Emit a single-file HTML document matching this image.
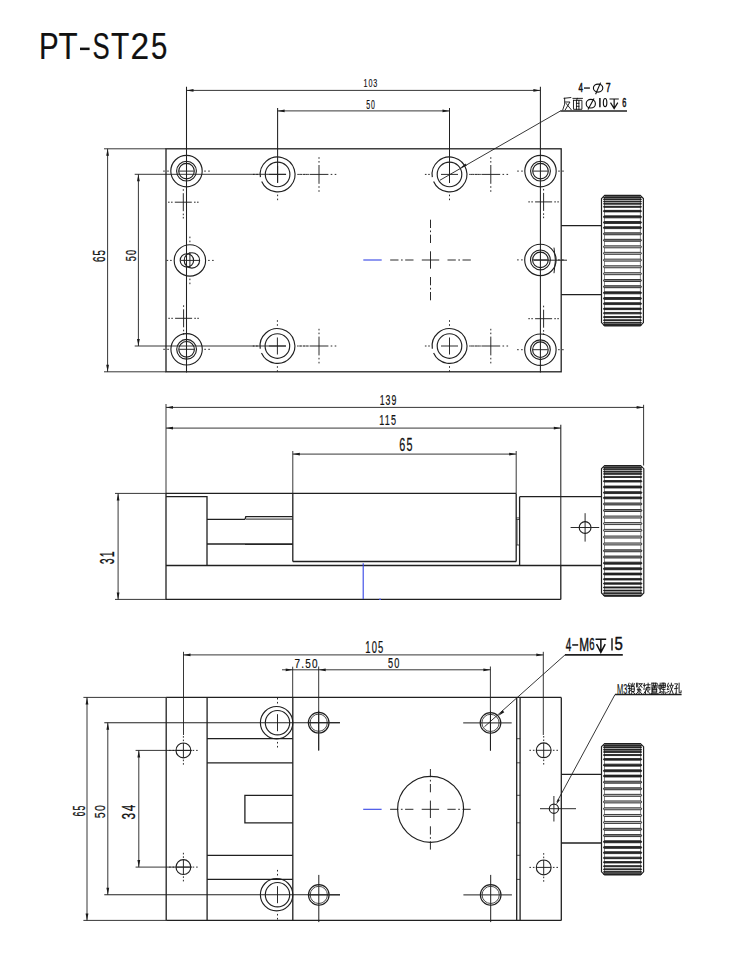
<!DOCTYPE html>
<html><head><meta charset="utf-8"><style>
html,body{margin:0;padding:0;background:#fff;}
svg{display:block;}
</style></head><body>
<svg width="750" height="975" viewBox="0 0 750 975">
<rect x="0" y="0" width="750" height="975" fill="#fff"/>
<g fill="none" stroke="#202020" stroke-width="1.3">
<text x="0" y="0" font-size="100" font-family="'Liberation Sans', sans-serif" fill="#111" stroke="#111" stroke-width="0.6" stroke-linejoin="round" transform="translate(38.930,58.792) scale(0.29478,0.36063)">P</text>
<text x="0" y="0" font-size="100" font-family="'Liberation Sans', sans-serif" fill="#111" stroke="#111" stroke-width="0.6" stroke-linejoin="round" transform="translate(58.469,58.792) scale(0.31250,0.36063)">T</text>
<rect x="80" y="47.6" width="9.6" height="2.5" fill="#111" stroke="none"/>
<text x="0" y="0" font-size="100" font-family="'Liberation Sans', sans-serif" fill="#111" stroke="#111" stroke-width="0.6" stroke-linejoin="round" transform="translate(92.592,58.926) scale(0.25694,0.36453)">S</text>
<text x="0" y="0" font-size="100" font-family="'Liberation Sans', sans-serif" fill="#111" stroke="#111" stroke-width="0.6" stroke-linejoin="round" transform="translate(110.892,58.792) scale(0.29861,0.36063)">T</text>
<text x="0" y="0" font-size="100" font-family="'Liberation Sans', sans-serif" fill="#111" stroke="#111" stroke-width="0.6" stroke-linejoin="round" transform="translate(130.427,58.791) scale(0.33476,0.36261)">2</text>
<text x="0" y="0" font-size="100" font-family="'Liberation Sans', sans-serif" fill="#111" stroke="#111" stroke-width="0.6" stroke-linejoin="round" transform="translate(150.912,58.929) scale(0.29412,0.36261)">5</text>
<rect x="166.00" y="148.80" width="395.20" height="223.00"/>
<line x1="104.00" y1="148.80" x2="166.00" y2="148.80" stroke-width="0.9"/>
<line x1="104.00" y1="371.80" x2="166.00" y2="371.80" stroke-width="0.9"/>
<line x1="107.60" y1="148.80" x2="107.60" y2="371.80" stroke-width="0.9"/>
<path d="M107.60,148.80 L106.20,155.80 L109.00,155.80 Z" fill="#1a1a1a" stroke="none"/>
<path d="M107.60,371.80 L106.20,364.80 L109.00,364.80 Z" fill="#1a1a1a" stroke="none"/>
<text x="0" y="0" font-size="100" font-family="'Liberation Sans', sans-serif" letter-spacing="12" fill="#111" stroke="#111" stroke-width="1.5" stroke-linejoin="round" transform="translate(104.708,262.016) rotate(-90) scale(0.09784,0.16690)">65</text>
<line x1="134.70" y1="174.30" x2="286.00" y2="174.30" stroke-width="0.9"/>
<line x1="134.70" y1="346.00" x2="286.00" y2="346.00" stroke-width="0.9"/>
<line x1="138.40" y1="174.30" x2="138.40" y2="346.00" stroke-width="0.9"/>
<path d="M138.40,174.30 L137.00,181.30 L139.80,181.30 Z" fill="#1a1a1a" stroke="none"/>
<path d="M138.40,346.00 L137.00,339.00 L139.80,339.00 Z" fill="#1a1a1a" stroke="none"/>
<text x="0" y="0" font-size="100" font-family="'Liberation Sans', sans-serif" letter-spacing="12" fill="#111" stroke="#111" stroke-width="1.5" stroke-linejoin="round" transform="translate(135.749,261.196) rotate(-90) scale(0.09099,0.14345)">50</text>
<line x1="186.50" y1="86.80" x2="186.50" y2="372.50" stroke-width="1.05"/>
<line x1="540.40" y1="86.80" x2="540.40" y2="372.50" stroke-width="1.05"/>
<line x1="186.50" y1="90.40" x2="540.40" y2="90.40" stroke-width="0.9"/>
<path d="M186.50,90.40 L193.50,89.00 L193.50,91.80 Z" fill="#1a1a1a" stroke="none"/>
<path d="M540.40,90.40 L533.40,89.00 L533.40,91.80 Z" fill="#1a1a1a" stroke="none"/>
<text x="0" y="0" font-size="100" font-family="'Liberation Sans', sans-serif" letter-spacing="12" fill="#111" stroke="#111" stroke-width="1.5" stroke-linejoin="round" transform="translate(363.579,87.397) scale(0.07187,0.11586)">103</text>
<line x1="277.60" y1="108.00" x2="277.60" y2="182.80" stroke-width="1.05"/>
<line x1="449.50" y1="108.00" x2="449.50" y2="182.80" stroke-width="1.05"/>
<line x1="277.60" y1="110.90" x2="449.50" y2="110.90" stroke-width="0.9"/>
<path d="M277.60,110.90 L284.60,109.50 L284.60,112.30 Z" fill="#1a1a1a" stroke="none"/>
<path d="M449.50,110.90 L442.50,109.50 L442.50,112.30 Z" fill="#1a1a1a" stroke="none"/>
<text x="0" y="0" font-size="100" font-family="'Liberation Sans', sans-serif" letter-spacing="12" fill="#111" stroke="#111" stroke-width="1.5" stroke-linejoin="round" transform="translate(366.274,108.690) scale(0.06953,0.12000)">50</text>
<circle cx="186.50" cy="171.10" r="15.70" stroke-width="1.15"/>
<circle cx="186.50" cy="171.10" r="9.90" stroke-width="1.15"/>
<circle cx="186.50" cy="171.10" r="7.80" stroke-width="1.15"/>
<line x1="179.10" y1="171.10" x2="193.90" y2="171.10" stroke-width="0.95"/>
<line x1="168.80" y1="171.10" x2="167.20" y2="171.10" stroke-width="0.95"/>
<line x1="164.80" y1="171.10" x2="163.20" y2="171.10" stroke-width="0.95"/>
<line x1="204.20" y1="171.10" x2="205.80" y2="171.10" stroke-width="0.95"/>
<line x1="208.20" y1="171.10" x2="209.80" y2="171.10" stroke-width="0.95"/>
<circle cx="540.50" cy="171.10" r="15.70" stroke-width="1.15"/>
<circle cx="540.50" cy="171.10" r="9.90" stroke-width="1.15"/>
<circle cx="540.50" cy="171.10" r="7.80" stroke-width="1.15"/>
<line x1="533.10" y1="171.10" x2="547.90" y2="171.10" stroke-width="0.95"/>
<line x1="522.80" y1="171.10" x2="521.20" y2="171.10" stroke-width="0.95"/>
<line x1="518.80" y1="171.10" x2="517.20" y2="171.10" stroke-width="0.95"/>
<line x1="558.20" y1="171.10" x2="559.80" y2="171.10" stroke-width="0.95"/>
<line x1="562.20" y1="171.10" x2="563.80" y2="171.10" stroke-width="0.95"/>
<circle cx="186.60" cy="349.30" r="15.70" stroke-width="1.15"/>
<circle cx="186.60" cy="349.30" r="9.90" stroke-width="1.15"/>
<circle cx="186.60" cy="349.30" r="7.80" stroke-width="1.15"/>
<line x1="179.20" y1="349.30" x2="194.00" y2="349.30" stroke-width="0.95"/>
<line x1="168.90" y1="349.30" x2="167.30" y2="349.30" stroke-width="0.95"/>
<line x1="164.90" y1="349.30" x2="163.30" y2="349.30" stroke-width="0.95"/>
<line x1="204.30" y1="349.30" x2="205.90" y2="349.30" stroke-width="0.95"/>
<line x1="208.30" y1="349.30" x2="209.90" y2="349.30" stroke-width="0.95"/>
<circle cx="540.40" cy="349.70" r="15.70" stroke-width="1.15"/>
<circle cx="540.40" cy="349.70" r="9.90" stroke-width="1.15"/>
<circle cx="540.40" cy="349.70" r="7.80" stroke-width="1.15"/>
<line x1="533.00" y1="349.70" x2="547.80" y2="349.70" stroke-width="0.95"/>
<line x1="522.70" y1="349.70" x2="521.10" y2="349.70" stroke-width="0.95"/>
<line x1="518.70" y1="349.70" x2="517.10" y2="349.70" stroke-width="0.95"/>
<line x1="558.10" y1="349.70" x2="559.70" y2="349.70" stroke-width="0.95"/>
<line x1="562.10" y1="349.70" x2="563.70" y2="349.70" stroke-width="0.95"/>
<circle cx="540.40" cy="259.90" r="15.70" stroke-width="1.15"/>
<circle cx="540.40" cy="259.90" r="9.90" stroke-width="1.15"/>
<circle cx="540.40" cy="259.90" r="7.80" stroke-width="1.15"/>
<line x1="533.00" y1="259.90" x2="547.80" y2="259.90" stroke-width="0.95"/>
<line x1="522.70" y1="259.90" x2="521.10" y2="259.90" stroke-width="0.95"/>
<line x1="518.70" y1="259.90" x2="517.10" y2="259.90" stroke-width="0.95"/>
<line x1="558.10" y1="259.90" x2="559.70" y2="259.90" stroke-width="0.95"/>
<line x1="562.10" y1="259.90" x2="563.70" y2="259.90" stroke-width="0.95"/>
<line x1="533.80" y1="260.20" x2="567.00" y2="260.20" stroke-width="0.95"/>
<path d="M554.0,247.6 Q556.8,260.4 554.0,273.2" stroke-width="1.0"/>
<circle cx="189.90" cy="260.40" r="15.70" stroke-width="1.15"/>
<circle cx="186.90" cy="260.40" r="6.70" stroke-width="1.15"/>
<circle cx="191.90" cy="260.40" r="7.70" stroke-width="1.15"/>
<line x1="181.00" y1="260.40" x2="199.00" y2="260.40" stroke-width="0.95"/>
<line x1="171.70" y1="260.40" x2="170.10" y2="260.40" stroke-width="0.95"/>
<line x1="168.20" y1="260.40" x2="166.60" y2="260.40" stroke-width="0.95"/>
<line x1="208.10" y1="260.40" x2="209.70" y2="260.40" stroke-width="0.95"/>
<line x1="212.10" y1="260.40" x2="213.70" y2="260.40" stroke-width="0.95"/>
<line x1="189.90" y1="242.20" x2="189.90" y2="240.60" stroke-width="0.95"/>
<line x1="189.90" y1="238.20" x2="189.90" y2="236.60" stroke-width="0.95"/>
<line x1="189.90" y1="278.60" x2="189.90" y2="280.20" stroke-width="0.95"/>
<line x1="189.90" y1="282.60" x2="189.90" y2="284.20" stroke-width="0.95"/>
<line x1="189.90" y1="252.00" x2="189.90" y2="268.00" stroke-width="0.95"/>
<path d="M260.41,177.12 A17.4,17.4 0 1 1 261.70,181.48" stroke-width="1.15"/>
<circle cx="277.60" cy="174.40" r="12.30" stroke-width="1.15"/>
<line x1="269.10" y1="174.40" x2="286.10" y2="174.40" stroke-width="0.95"/>
<line x1="277.60" y1="165.90" x2="277.60" y2="182.90" stroke-width="0.95"/>
<line x1="297.30" y1="174.40" x2="298.90" y2="174.40" stroke-width="0.95"/>
<line x1="300.60" y1="174.40" x2="302.20" y2="174.40" stroke-width="0.95"/>
<line x1="304.00" y1="174.40" x2="305.60" y2="174.40" stroke-width="0.95"/>
<line x1="307.30" y1="174.40" x2="308.90" y2="174.40" stroke-width="0.95"/>
<line x1="257.90" y1="174.40" x2="256.30" y2="174.40" stroke-width="0.95"/>
<line x1="254.60" y1="174.40" x2="253.00" y2="174.40" stroke-width="0.95"/>
<line x1="277.60" y1="194.60" x2="277.60" y2="196.20" stroke-width="0.95"/>
<line x1="277.60" y1="198.60" x2="277.60" y2="200.20" stroke-width="0.95"/>
<path d="M432.31,177.12 A17.4,17.4 0 1 1 433.60,181.48" stroke-width="1.15"/>
<circle cx="449.50" cy="174.40" r="12.30" stroke-width="1.15"/>
<line x1="441.00" y1="174.40" x2="458.00" y2="174.40" stroke-width="0.95"/>
<line x1="449.50" y1="165.90" x2="449.50" y2="182.90" stroke-width="0.95"/>
<line x1="469.20" y1="174.40" x2="470.80" y2="174.40" stroke-width="0.95"/>
<line x1="472.50" y1="174.40" x2="474.10" y2="174.40" stroke-width="0.95"/>
<line x1="475.90" y1="174.40" x2="477.50" y2="174.40" stroke-width="0.95"/>
<line x1="479.20" y1="174.40" x2="480.80" y2="174.40" stroke-width="0.95"/>
<line x1="429.80" y1="174.40" x2="428.20" y2="174.40" stroke-width="0.95"/>
<line x1="426.50" y1="174.40" x2="424.90" y2="174.40" stroke-width="0.95"/>
<line x1="449.50" y1="194.60" x2="449.50" y2="196.20" stroke-width="0.95"/>
<line x1="449.50" y1="198.60" x2="449.50" y2="200.20" stroke-width="0.95"/>
<path d="M260.21,348.72 A17.4,17.4 0 1 1 261.50,353.08" stroke-width="1.15"/>
<circle cx="277.40" cy="346.00" r="12.30" stroke-width="1.15"/>
<line x1="268.90" y1="346.00" x2="285.90" y2="346.00" stroke-width="0.95"/>
<line x1="277.40" y1="337.50" x2="277.40" y2="354.50" stroke-width="0.95"/>
<line x1="297.10" y1="346.00" x2="298.70" y2="346.00" stroke-width="0.95"/>
<line x1="300.40" y1="346.00" x2="302.00" y2="346.00" stroke-width="0.95"/>
<line x1="303.80" y1="346.00" x2="305.40" y2="346.00" stroke-width="0.95"/>
<line x1="307.10" y1="346.00" x2="308.70" y2="346.00" stroke-width="0.95"/>
<line x1="257.70" y1="346.00" x2="256.10" y2="346.00" stroke-width="0.95"/>
<line x1="254.40" y1="346.00" x2="252.80" y2="346.00" stroke-width="0.95"/>
<line x1="277.40" y1="366.20" x2="277.40" y2="367.80" stroke-width="0.95"/>
<line x1="277.40" y1="370.20" x2="277.40" y2="371.80" stroke-width="0.95"/>
<line x1="277.40" y1="325.80" x2="277.40" y2="324.20" stroke-width="0.95"/>
<line x1="277.40" y1="321.80" x2="277.40" y2="320.20" stroke-width="0.95"/>
<path d="M432.31,348.72 A17.4,17.4 0 1 1 433.60,353.08" stroke-width="1.15"/>
<circle cx="449.50" cy="346.00" r="12.30" stroke-width="1.15"/>
<line x1="441.00" y1="346.00" x2="458.00" y2="346.00" stroke-width="0.95"/>
<line x1="449.50" y1="337.50" x2="449.50" y2="354.50" stroke-width="0.95"/>
<line x1="469.20" y1="346.00" x2="470.80" y2="346.00" stroke-width="0.95"/>
<line x1="472.50" y1="346.00" x2="474.10" y2="346.00" stroke-width="0.95"/>
<line x1="475.90" y1="346.00" x2="477.50" y2="346.00" stroke-width="0.95"/>
<line x1="479.20" y1="346.00" x2="480.80" y2="346.00" stroke-width="0.95"/>
<line x1="429.80" y1="346.00" x2="428.20" y2="346.00" stroke-width="0.95"/>
<line x1="426.50" y1="346.00" x2="424.90" y2="346.00" stroke-width="0.95"/>
<line x1="449.50" y1="366.20" x2="449.50" y2="367.80" stroke-width="0.95"/>
<line x1="449.50" y1="370.20" x2="449.50" y2="371.80" stroke-width="0.95"/>
<line x1="449.50" y1="325.80" x2="449.50" y2="324.20" stroke-width="0.95"/>
<line x1="449.50" y1="321.80" x2="449.50" y2="320.20" stroke-width="0.95"/>
<line x1="309.60" y1="174.40" x2="328.40" y2="174.40" stroke-width="0.95"/>
<line x1="319.00" y1="165.00" x2="319.00" y2="183.80" stroke-width="0.95"/>
<line x1="307.30" y1="174.40" x2="305.70" y2="174.40" stroke-width="0.95"/>
<line x1="304.30" y1="174.40" x2="302.70" y2="174.40" stroke-width="0.95"/>
<line x1="300.80" y1="174.40" x2="299.20" y2="174.40" stroke-width="0.95"/>
<line x1="330.70" y1="174.40" x2="332.30" y2="174.40" stroke-width="0.95"/>
<line x1="334.70" y1="174.40" x2="336.30" y2="174.40" stroke-width="0.95"/>
<line x1="319.00" y1="162.60" x2="319.00" y2="161.00" stroke-width="0.95"/>
<line x1="319.00" y1="158.80" x2="319.00" y2="157.20" stroke-width="0.95"/>
<line x1="319.00" y1="186.20" x2="319.00" y2="187.80" stroke-width="0.95"/>
<line x1="319.00" y1="190.20" x2="319.00" y2="191.80" stroke-width="0.95"/>
<line x1="481.40" y1="174.40" x2="500.20" y2="174.40" stroke-width="0.95"/>
<line x1="490.80" y1="165.00" x2="490.80" y2="183.80" stroke-width="0.95"/>
<line x1="479.10" y1="174.40" x2="477.50" y2="174.40" stroke-width="0.95"/>
<line x1="476.10" y1="174.40" x2="474.50" y2="174.40" stroke-width="0.95"/>
<line x1="472.60" y1="174.40" x2="471.00" y2="174.40" stroke-width="0.95"/>
<line x1="502.50" y1="174.40" x2="504.10" y2="174.40" stroke-width="0.95"/>
<line x1="506.50" y1="174.40" x2="508.10" y2="174.40" stroke-width="0.95"/>
<line x1="490.80" y1="162.60" x2="490.80" y2="161.00" stroke-width="0.95"/>
<line x1="490.80" y1="158.80" x2="490.80" y2="157.20" stroke-width="0.95"/>
<line x1="490.80" y1="186.20" x2="490.80" y2="187.80" stroke-width="0.95"/>
<line x1="490.80" y1="190.20" x2="490.80" y2="191.80" stroke-width="0.95"/>
<line x1="309.60" y1="346.00" x2="328.40" y2="346.00" stroke-width="0.95"/>
<line x1="319.00" y1="336.60" x2="319.00" y2="355.40" stroke-width="0.95"/>
<line x1="307.30" y1="346.00" x2="305.70" y2="346.00" stroke-width="0.95"/>
<line x1="304.30" y1="346.00" x2="302.70" y2="346.00" stroke-width="0.95"/>
<line x1="300.80" y1="346.00" x2="299.20" y2="346.00" stroke-width="0.95"/>
<line x1="330.70" y1="346.00" x2="332.30" y2="346.00" stroke-width="0.95"/>
<line x1="334.70" y1="346.00" x2="336.30" y2="346.00" stroke-width="0.95"/>
<line x1="319.00" y1="334.20" x2="319.00" y2="332.60" stroke-width="0.95"/>
<line x1="319.00" y1="330.40" x2="319.00" y2="328.80" stroke-width="0.95"/>
<line x1="319.00" y1="357.80" x2="319.00" y2="359.40" stroke-width="0.95"/>
<line x1="319.00" y1="361.80" x2="319.00" y2="363.40" stroke-width="0.95"/>
<line x1="481.40" y1="346.00" x2="500.20" y2="346.00" stroke-width="0.95"/>
<line x1="490.80" y1="336.60" x2="490.80" y2="355.40" stroke-width="0.95"/>
<line x1="479.10" y1="346.00" x2="477.50" y2="346.00" stroke-width="0.95"/>
<line x1="476.10" y1="346.00" x2="474.50" y2="346.00" stroke-width="0.95"/>
<line x1="472.60" y1="346.00" x2="471.00" y2="346.00" stroke-width="0.95"/>
<line x1="502.50" y1="346.00" x2="504.10" y2="346.00" stroke-width="0.95"/>
<line x1="506.50" y1="346.00" x2="508.10" y2="346.00" stroke-width="0.95"/>
<line x1="490.80" y1="334.20" x2="490.80" y2="332.60" stroke-width="0.95"/>
<line x1="490.80" y1="330.40" x2="490.80" y2="328.80" stroke-width="0.95"/>
<line x1="490.80" y1="357.80" x2="490.80" y2="359.40" stroke-width="0.95"/>
<line x1="490.80" y1="361.80" x2="490.80" y2="363.40" stroke-width="0.95"/>
<line x1="174.80" y1="202.20" x2="191.80" y2="202.20" stroke-width="0.95"/>
<line x1="183.30" y1="193.20" x2="183.30" y2="211.20" stroke-width="0.95"/>
<line x1="172.60" y1="202.20" x2="171.00" y2="202.20" stroke-width="0.95"/>
<line x1="169.60" y1="202.20" x2="168.00" y2="202.20" stroke-width="0.95"/>
<line x1="194.00" y1="202.20" x2="195.60" y2="202.20" stroke-width="0.95"/>
<line x1="197.00" y1="202.20" x2="198.60" y2="202.20" stroke-width="0.95"/>
<line x1="183.30" y1="190.80" x2="183.30" y2="189.20" stroke-width="0.95"/>
<line x1="183.30" y1="213.60" x2="183.30" y2="215.20" stroke-width="0.95"/>
<line x1="183.30" y1="216.90" x2="183.30" y2="218.50" stroke-width="0.95"/>
<line x1="175.10" y1="318.30" x2="192.10" y2="318.30" stroke-width="0.95"/>
<line x1="183.60" y1="309.30" x2="183.60" y2="327.30" stroke-width="0.95"/>
<line x1="172.90" y1="318.30" x2="171.30" y2="318.30" stroke-width="0.95"/>
<line x1="169.90" y1="318.30" x2="168.30" y2="318.30" stroke-width="0.95"/>
<line x1="194.30" y1="318.30" x2="195.90" y2="318.30" stroke-width="0.95"/>
<line x1="197.30" y1="318.30" x2="198.90" y2="318.30" stroke-width="0.95"/>
<line x1="183.60" y1="306.90" x2="183.60" y2="305.30" stroke-width="0.95"/>
<line x1="183.60" y1="329.70" x2="183.60" y2="331.30" stroke-width="0.95"/>
<line x1="183.60" y1="333.00" x2="183.60" y2="334.60" stroke-width="0.95"/>
<line x1="535.10" y1="201.90" x2="552.10" y2="201.90" stroke-width="0.95"/>
<line x1="543.60" y1="192.90" x2="543.60" y2="210.90" stroke-width="0.95"/>
<line x1="532.90" y1="201.90" x2="531.30" y2="201.90" stroke-width="0.95"/>
<line x1="529.90" y1="201.90" x2="528.30" y2="201.90" stroke-width="0.95"/>
<line x1="554.30" y1="201.90" x2="555.90" y2="201.90" stroke-width="0.95"/>
<line x1="557.30" y1="201.90" x2="558.90" y2="201.90" stroke-width="0.95"/>
<line x1="543.60" y1="190.50" x2="543.60" y2="188.90" stroke-width="0.95"/>
<line x1="543.60" y1="213.30" x2="543.60" y2="214.90" stroke-width="0.95"/>
<line x1="543.60" y1="216.60" x2="543.60" y2="218.20" stroke-width="0.95"/>
<line x1="535.10" y1="318.70" x2="552.10" y2="318.70" stroke-width="0.95"/>
<line x1="543.60" y1="309.70" x2="543.60" y2="327.70" stroke-width="0.95"/>
<line x1="532.90" y1="318.70" x2="531.30" y2="318.70" stroke-width="0.95"/>
<line x1="529.90" y1="318.70" x2="528.30" y2="318.70" stroke-width="0.95"/>
<line x1="554.30" y1="318.70" x2="555.90" y2="318.70" stroke-width="0.95"/>
<line x1="557.30" y1="318.70" x2="558.90" y2="318.70" stroke-width="0.95"/>
<line x1="543.60" y1="307.30" x2="543.60" y2="305.70" stroke-width="0.95"/>
<line x1="543.60" y1="330.10" x2="543.60" y2="331.70" stroke-width="0.95"/>
<line x1="543.60" y1="333.40" x2="543.60" y2="335.00" stroke-width="0.95"/>
<line x1="421.80" y1="260.00" x2="439.20" y2="260.00" stroke-width="0.95"/>
<line x1="447.50" y1="260.00" x2="455.80" y2="260.00" stroke-width="0.95"/>
<line x1="405.20" y1="260.00" x2="413.50" y2="260.00" stroke-width="0.95"/>
<line x1="458.30" y1="260.00" x2="460.00" y2="260.00" stroke-width="0.95"/>
<line x1="401.00" y1="260.00" x2="402.70" y2="260.00" stroke-width="0.95"/>
<line x1="462.50" y1="260.00" x2="470.80" y2="260.00" stroke-width="0.95"/>
<line x1="390.20" y1="260.00" x2="398.50" y2="260.00" stroke-width="0.95"/>
<line x1="430.50" y1="251.30" x2="430.50" y2="268.70" stroke-width="0.95"/>
<line x1="430.50" y1="277.00" x2="430.50" y2="285.30" stroke-width="0.95"/>
<line x1="430.50" y1="234.70" x2="430.50" y2="243.00" stroke-width="0.95"/>
<line x1="430.50" y1="287.80" x2="430.50" y2="289.50" stroke-width="0.95"/>
<line x1="430.50" y1="230.50" x2="430.50" y2="232.20" stroke-width="0.95"/>
<line x1="430.50" y1="292.00" x2="430.50" y2="300.30" stroke-width="0.95"/>
<line x1="430.50" y1="219.70" x2="430.50" y2="228.00" stroke-width="0.95"/>
<line x1="363.30" y1="260.00" x2="381.70" y2="260.00" stroke-width="1.1" stroke="#3444e6"/>
<line x1="561.20" y1="225.60" x2="601.50" y2="225.60"/>
<line x1="561.20" y1="294.70" x2="601.50" y2="294.70"/>
<line x1="604.50" y1="197.40" x2="604.50" y2="323.80" stroke-width="0.7" stroke="#555"/>
<line x1="640.40" y1="197.40" x2="640.40" y2="323.80" stroke-width="0.7" stroke="#555"/>
<rect x="603.50" y="197.36" width="37.90" height="0.70" rx="0.35" fill="#2a2a2a" stroke="#141414" stroke-width="0.8"/>
<rect x="603.50" y="199.05" width="37.90" height="0.70" rx="0.35" fill="#2a2a2a" stroke="#141414" stroke-width="0.8"/>
<rect x="603.50" y="201.22" width="37.90" height="0.79" rx="0.40" fill="#2a2a2a" stroke="#141414" stroke-width="0.8"/>
<rect x="603.50" y="203.43" width="37.90" height="0.79" rx="0.40" fill="#2a2a2a" stroke="#141414" stroke-width="0.8"/>
<rect x="603.50" y="206.28" width="37.90" height="1.08" rx="0.54" fill="#2a2a2a" stroke="#141414" stroke-width="0.8"/>
<rect x="603.50" y="210.36" width="37.90" height="1.55" rx="0.78" fill="#2a2a2a" stroke="#141414" stroke-width="0.8"/>
<rect x="603.50" y="215.85" width="37.90" height="2.00" rx="1.00" fill="#2a2a2a" stroke="#141414" stroke-width="0.8"/>
<rect x="603.50" y="221.52" width="37.90" height="1.88" rx="0.94" fill="#2a2a2a" stroke="#141414" stroke-width="0.8"/>
<rect x="603.50" y="226.74" width="37.90" height="1.88" rx="0.94" fill="#2a2a2a" stroke="#141414" stroke-width="0.8"/>
<rect x="603.50" y="232.79" width="37.90" height="2.00" rx="1.00" fill="#808080" stroke="#141414" stroke-width="0.8"/>
<rect x="603.50" y="239.30" width="37.90" height="2.00" rx="1.00" fill="#808080" stroke="#141414" stroke-width="0.8"/>
<rect x="603.50" y="245.82" width="37.90" height="2.00" rx="1.00" fill="#bdbdbd" stroke="#141414" stroke-width="0.8"/>
<rect x="603.50" y="252.34" width="37.90" height="2.00" rx="1.00" fill="#bdbdbd" stroke="#141414" stroke-width="0.8"/>
<rect x="603.50" y="259.14" width="37.90" height="2.00" rx="1.00" fill="#bdbdbd" stroke="#141414" stroke-width="0.8"/>
<rect x="603.50" y="265.77" width="37.90" height="2.00" rx="1.00" fill="#bdbdbd" stroke="#141414" stroke-width="0.8"/>
<rect x="603.50" y="272.68" width="37.90" height="2.00" rx="1.00" fill="#bdbdbd" stroke="#141414" stroke-width="0.8"/>
<rect x="603.50" y="279.50" width="37.90" height="2.00" rx="1.00" fill="#808080" stroke="#141414" stroke-width="0.8"/>
<rect x="603.50" y="285.71" width="37.90" height="2.00" rx="1.00" fill="#808080" stroke="#141414" stroke-width="0.8"/>
<rect x="603.50" y="291.82" width="37.90" height="2.00" rx="1.00" fill="#2a2a2a" stroke="#141414" stroke-width="0.8"/>
<rect x="603.50" y="297.51" width="37.90" height="1.87" rx="0.94" fill="#2a2a2a" stroke="#141414" stroke-width="0.8"/>
<rect x="603.50" y="302.71" width="37.90" height="1.87" rx="0.94" fill="#2a2a2a" stroke="#141414" stroke-width="0.8"/>
<rect x="603.50" y="308.09" width="37.90" height="1.55" rx="0.77" fill="#2a2a2a" stroke="#141414" stroke-width="0.8"/>
<rect x="603.50" y="312.46" width="37.90" height="1.41" rx="0.70" fill="#2a2a2a" stroke="#141414" stroke-width="0.8"/>
<rect x="603.50" y="316.52" width="37.90" height="1.12" rx="0.56" fill="#2a2a2a" stroke="#141414" stroke-width="0.8"/>
<rect x="603.50" y="319.73" width="37.90" height="0.93" rx="0.47" fill="#2a2a2a" stroke="#141414" stroke-width="0.8"/>
<rect x="603.50" y="322.41" width="37.90" height="0.76" rx="0.38" fill="#2a2a2a" stroke="#141414" stroke-width="0.8"/>
<rect x="603.50" y="324.55" width="37.90" height="0.70" rx="0.35" fill="#2a2a2a" stroke="#141414" stroke-width="0.8"/>
<path d="M601.50,198.60 L604.70,195.40 L640.20,195.40 L643.40,198.60 L643.40,322.60 L640.20,325.80 L604.70,325.80 L601.50,322.60 Z" stroke-width="1.2"/>
<line x1="604.70" y1="196.00" x2="640.20" y2="196.00" stroke-width="1.3"/>
<line x1="604.70" y1="325.20" x2="640.20" y2="325.20" stroke-width="1.3"/>
<line x1="440.00" y1="180.20" x2="560.20" y2="111.10" stroke-width="0.9"/>
<line x1="560.20" y1="111.00" x2="627.00" y2="111.00" stroke-width="1.7"/>
<path d="M460.00,168.20 L465.42,163.59 L466.72,165.84 Z" fill="#1a1a1a" stroke="none"/>
<text x="0" y="0" font-size="100" font-family="'Liberation Sans', sans-serif" fill="#111" stroke="#111" stroke-width="4.0" stroke-linejoin="round" transform="translate(578.500,91.669) scale(0.08000,0.13056)">4</text>
<rect x="584" y="87.4" width="5.9" height="1.3" fill="#111" stroke="none"/>
<ellipse cx="598.1" cy="88.1" rx="4.7" ry="4.0" stroke="#111" stroke-width="1.15"/>
<line x1="595.60" y1="94.20" x2="600.60" y2="82.60" stroke-width="1.1" stroke="#111"/>
<text x="0" y="0" font-size="100" font-family="'Liberation Sans', sans-serif" fill="#111" stroke="#111" stroke-width="4.0" stroke-linejoin="round" transform="translate(605.736,91.669) scale(0.08800,0.13056)">7</text>
<path d="M564.06,98.29 L570.78,97.55 M564.65,98.29 L564.65,104.12 L562.80,109.70 M565.32,102.01 L569.94,102.01 L565.32,109.70 M566.16,103.50 L571.20,109.70" stroke="#111" stroke-width="0.9" fill="none" stroke-linecap="square"/>
<path d="M573.00,98.38 L582.40,98.38 M577.23,98.38 L576.76,100.33 M573.47,100.33 L581.93,100.33 L581.93,109.30 L573.47,109.30 L573.47,100.33 M576.48,100.33 L576.48,109.30 M578.92,100.33 L578.92,109.30 M576.48,103.32 L578.92,103.32 M576.48,106.31 L578.92,106.31" stroke="#111" stroke-width="0.9" fill="none" stroke-linecap="square"/>
<ellipse cx="590.8" cy="103.7" rx="4.6" ry="4.3" stroke="#111" stroke-width="1.15"/>
<line x1="588.00" y1="109.60" x2="594.00" y2="98.40" stroke-width="1.1" stroke="#111"/>
<line x1="599.90" y1="98.00" x2="599.90" y2="107.20" stroke-width="1.5" stroke="#111"/>
<ellipse cx="605.1" cy="102.6" rx="1.75" ry="4.1" stroke="#111" stroke-width="1.15"/>
<path d="M609.50,99.00 H618.80 M614.15,99.00 V107.60 M610.50,102.65 L614.15,108.60 L617.80,102.65" stroke="#111" stroke-width="1.2" fill="none"/>
<text x="0" y="0" font-size="100" font-family="'Liberation Sans', sans-serif" fill="#111" stroke="#111" stroke-width="4.0" stroke-linejoin="round" transform="translate(622.278,106.928) scale(0.07400,0.12400)">6</text>
<line x1="166.00" y1="404.00" x2="166.00" y2="493.40" stroke-width="0.9"/>
<line x1="166.00" y1="493.40" x2="166.00" y2="599.40"/>
<line x1="643.60" y1="404.80" x2="643.60" y2="465.50" stroke-width="0.9"/>
<line x1="560.80" y1="424.80" x2="560.80" y2="565.50" stroke-width="1.05"/>
<line x1="560.80" y1="565.50" x2="560.80" y2="599.40"/>
<line x1="166.00" y1="407.40" x2="643.60" y2="407.40" stroke-width="0.9"/>
<path d="M166.00,407.40 L173.00,406.00 L173.00,408.80 Z" fill="#1a1a1a" stroke="none"/>
<path d="M643.60,407.40 L636.60,406.00 L636.60,408.80 Z" fill="#1a1a1a" stroke="none"/>
<text x="0" y="0" font-size="100" font-family="'Liberation Sans', sans-serif" letter-spacing="12" fill="#111" stroke="#111" stroke-width="1.5" stroke-linejoin="round" transform="translate(379.666,404.539) scale(0.08747,0.14897)">139</text>
<line x1="166.00" y1="428.10" x2="560.80" y2="428.10" stroke-width="0.9"/>
<path d="M166.00,428.10 L173.00,426.70 L173.00,429.50 Z" fill="#1a1a1a" stroke="none"/>
<path d="M560.80,428.10 L553.80,426.70 L553.80,429.50 Z" fill="#1a1a1a" stroke="none"/>
<text x="0" y="0" font-size="100" font-family="'Liberation Sans', sans-serif" letter-spacing="12" fill="#111" stroke="#111" stroke-width="1.5" stroke-linejoin="round" transform="translate(379.340,425.438) scale(0.09101,0.14965)">115</text>
<line x1="292.80" y1="451.00" x2="292.80" y2="493.40" stroke-width="0.9"/>
<line x1="516.20" y1="451.00" x2="516.20" y2="493.40" stroke-width="0.9"/>
<line x1="516.20" y1="493.40" x2="516.20" y2="561.50"/>
<line x1="292.80" y1="454.10" x2="516.20" y2="454.10" stroke-width="0.9"/>
<path d="M292.80,454.10 L299.80,452.70 L299.80,455.50 Z" fill="#1a1a1a" stroke="none"/>
<path d="M516.20,454.10 L509.20,452.70 L509.20,455.50 Z" fill="#1a1a1a" stroke="none"/>
<text x="0" y="0" font-size="100" font-family="'Liberation Sans', sans-serif" letter-spacing="12" fill="#111" stroke="#111" stroke-width="1.5" stroke-linejoin="round" transform="translate(399.140,451.281) scale(0.10823,0.18207)">65</text>
<line x1="115.00" y1="493.40" x2="166.00" y2="493.40" stroke-width="0.9"/>
<line x1="166.00" y1="493.40" x2="516.20" y2="493.40"/>
<line x1="115.00" y1="599.40" x2="166.00" y2="599.40" stroke-width="0.9"/>
<line x1="166.00" y1="599.40" x2="560.80" y2="599.40"/>
<line x1="118.10" y1="493.40" x2="118.10" y2="599.40" stroke-width="0.9"/>
<path d="M118.10,493.40 L116.70,500.40 L119.50,500.40 Z" fill="#1a1a1a" stroke="none"/>
<path d="M118.10,599.40 L116.70,592.40 L119.50,592.40 Z" fill="#1a1a1a" stroke="none"/>
<text x="0" y="0" font-size="100" font-family="'Liberation Sans', sans-serif" letter-spacing="12" fill="#111" stroke="#111" stroke-width="1.5" stroke-linejoin="round" transform="translate(113.550,564.240) rotate(-90) scale(0.10476,0.20000)">31</text>
<path d="M166.00,496.60 L207.00,496.60 L207.00,565.50"/>
<line x1="166.00" y1="565.50" x2="601.50" y2="565.50"/>
<line x1="292.80" y1="493.40" x2="292.80" y2="561.50"/>
<line x1="292.80" y1="561.50" x2="516.20" y2="561.50"/>
<line x1="207.00" y1="519.40" x2="245.00" y2="519.40"/>
<path d="M245.00,519.40 L245.80,516.70 L292.80,516.70"/>
<line x1="245.80" y1="519.10" x2="292.80" y2="519.10" stroke-width="1.0"/>
<line x1="207.00" y1="544.00" x2="292.80" y2="544.00"/>
<line x1="245.00" y1="544.50" x2="292.80" y2="544.50" stroke-width="0.9"/>
<line x1="519.60" y1="496.70" x2="519.60" y2="565.50"/>
<line x1="519.60" y1="496.70" x2="601.50" y2="496.70"/>
<line x1="516.20" y1="517.90" x2="519.60" y2="517.90" stroke-width="0.8"/>
<line x1="516.20" y1="519.50" x2="519.60" y2="519.50" stroke-width="0.8"/>
<line x1="517.40" y1="519.50" x2="517.40" y2="545.00" stroke-width="0.7" stroke="#666"/>
<line x1="516.20" y1="545.00" x2="519.60" y2="545.00" stroke-width="0.8"/>
<circle cx="585.10" cy="527.50" r="5.90" stroke-width="1.15"/>
<line x1="570.60" y1="527.50" x2="599.20" y2="527.50" stroke-width="0.95"/>
<line x1="585.10" y1="513.20" x2="585.10" y2="541.60" stroke-width="0.95"/>
<line x1="363.20" y1="563.20" x2="363.20" y2="599.00" stroke-width="1.1" stroke="#3444e6"/>
<line x1="379.00" y1="599.40" x2="381.00" y2="599.40" stroke-width="1.1" stroke="#3444e6"/>
<line x1="604.50" y1="467.50" x2="604.50" y2="594.20" stroke-width="0.7" stroke="#555"/>
<line x1="640.80" y1="467.50" x2="640.80" y2="594.20" stroke-width="0.7" stroke="#555"/>
<rect x="603.50" y="467.46" width="38.30" height="0.70" rx="0.35" fill="#2a2a2a" stroke="#141414" stroke-width="0.8"/>
<rect x="603.50" y="469.16" width="38.30" height="0.70" rx="0.35" fill="#2a2a2a" stroke="#141414" stroke-width="0.8"/>
<rect x="603.50" y="471.34" width="38.30" height="0.80" rx="0.40" fill="#2a2a2a" stroke="#141414" stroke-width="0.8"/>
<rect x="603.50" y="473.55" width="38.30" height="0.80" rx="0.40" fill="#2a2a2a" stroke="#141414" stroke-width="0.8"/>
<rect x="603.50" y="476.41" width="38.30" height="1.08" rx="0.54" fill="#2a2a2a" stroke="#141414" stroke-width="0.8"/>
<rect x="603.50" y="480.50" width="38.30" height="1.56" rx="0.78" fill="#2a2a2a" stroke="#141414" stroke-width="0.8"/>
<rect x="603.50" y="486.00" width="38.30" height="2.00" rx="1.00" fill="#2a2a2a" stroke="#141414" stroke-width="0.8"/>
<rect x="603.50" y="491.68" width="38.30" height="1.88" rx="0.94" fill="#2a2a2a" stroke="#141414" stroke-width="0.8"/>
<rect x="603.50" y="496.91" width="38.30" height="1.88" rx="0.94" fill="#2a2a2a" stroke="#141414" stroke-width="0.8"/>
<rect x="603.50" y="502.98" width="38.30" height="2.00" rx="1.00" fill="#808080" stroke="#141414" stroke-width="0.8"/>
<rect x="603.50" y="509.50" width="38.30" height="2.00" rx="1.00" fill="#808080" stroke="#141414" stroke-width="0.8"/>
<rect x="603.50" y="516.04" width="38.30" height="2.00" rx="1.00" fill="#bdbdbd" stroke="#141414" stroke-width="0.8"/>
<rect x="603.50" y="522.57" width="38.30" height="2.00" rx="1.00" fill="#bdbdbd" stroke="#141414" stroke-width="0.8"/>
<rect x="603.50" y="529.39" width="38.30" height="2.00" rx="1.00" fill="#bdbdbd" stroke="#141414" stroke-width="0.8"/>
<rect x="603.50" y="536.03" width="38.30" height="2.00" rx="1.00" fill="#bdbdbd" stroke="#141414" stroke-width="0.8"/>
<rect x="603.50" y="542.96" width="38.30" height="2.00" rx="1.00" fill="#bdbdbd" stroke="#141414" stroke-width="0.8"/>
<rect x="603.50" y="549.79" width="38.30" height="2.00" rx="1.00" fill="#808080" stroke="#141414" stroke-width="0.8"/>
<rect x="603.50" y="556.02" width="38.30" height="2.00" rx="1.00" fill="#808080" stroke="#141414" stroke-width="0.8"/>
<rect x="603.50" y="562.15" width="38.30" height="2.00" rx="1.00" fill="#2a2a2a" stroke="#141414" stroke-width="0.8"/>
<rect x="603.50" y="567.84" width="38.30" height="1.88" rx="0.94" fill="#2a2a2a" stroke="#141414" stroke-width="0.8"/>
<rect x="603.50" y="573.06" width="38.30" height="1.88" rx="0.94" fill="#2a2a2a" stroke="#141414" stroke-width="0.8"/>
<rect x="603.50" y="578.45" width="38.30" height="1.55" rx="0.78" fill="#2a2a2a" stroke="#141414" stroke-width="0.8"/>
<rect x="603.50" y="582.83" width="38.30" height="1.41" rx="0.71" fill="#2a2a2a" stroke="#141414" stroke-width="0.8"/>
<rect x="603.50" y="586.89" width="38.30" height="1.12" rx="0.56" fill="#2a2a2a" stroke="#141414" stroke-width="0.8"/>
<rect x="603.50" y="590.11" width="38.30" height="0.94" rx="0.47" fill="#2a2a2a" stroke="#141414" stroke-width="0.8"/>
<rect x="603.50" y="592.80" width="38.30" height="0.76" rx="0.38" fill="#2a2a2a" stroke="#141414" stroke-width="0.8"/>
<rect x="603.50" y="594.95" width="38.30" height="0.70" rx="0.35" fill="#2a2a2a" stroke="#141414" stroke-width="0.8"/>
<path d="M601.50,468.70 L604.70,465.50 L640.60,465.50 L643.80,468.70 L643.80,593.00 L640.60,596.20 L604.70,596.20 L601.50,593.00 Z" stroke-width="1.2"/>
<line x1="604.70" y1="466.10" x2="640.60" y2="466.10" stroke-width="1.3"/>
<line x1="604.70" y1="595.60" x2="640.60" y2="595.60" stroke-width="1.3"/>
<line x1="183.50" y1="651.80" x2="183.50" y2="735.00" stroke-width="0.9"/>
<line x1="543.30" y1="651.80" x2="543.30" y2="735.00" stroke-width="0.9"/>
<line x1="183.50" y1="654.90" x2="543.30" y2="654.90" stroke-width="0.9"/>
<path d="M183.50,654.90 L190.50,653.50 L190.50,656.30 Z" fill="#1a1a1a" stroke="none"/>
<path d="M543.30,654.90 L536.30,653.50 L536.30,656.30 Z" fill="#1a1a1a" stroke="none"/>
<text x="0" y="0" font-size="100" font-family="'Liberation Sans', sans-serif" letter-spacing="12" fill="#111" stroke="#111" stroke-width="1.5" stroke-linejoin="round" transform="translate(365.317,652.718) scale(0.09418,0.16138)">105</text>
<line x1="292.70" y1="666.70" x2="292.70" y2="697.40" stroke-width="0.9"/>
<line x1="318.70" y1="666.50" x2="318.70" y2="750.60" stroke-width="0.9"/>
<line x1="490.40" y1="666.50" x2="490.40" y2="750.60" stroke-width="0.9"/>
<line x1="282.00" y1="669.80" x2="490.40" y2="669.80" stroke-width="0.9"/>
<path d="M292.70,669.80 L285.70,668.40 L285.70,671.20 Z" fill="#1a1a1a" stroke="none"/>
<path d="M318.70,669.80 L325.70,668.40 L325.70,671.20 Z" fill="#1a1a1a" stroke="none"/>
<path d="M490.40,669.80 L483.40,668.40 L483.40,671.20 Z" fill="#1a1a1a" stroke="none"/>
<text x="0" y="0" font-size="100" font-family="'Liberation Sans', sans-serif" letter-spacing="12" fill="#111" stroke="#111" stroke-width="1.5" stroke-linejoin="round" transform="translate(294.576,668.483) scale(0.09978,0.12414)">7.50</text>
<text x="0" y="0" font-size="100" font-family="'Liberation Sans', sans-serif" letter-spacing="12" fill="#111" stroke="#111" stroke-width="1.5" stroke-linejoin="round" transform="translate(388.002,667.742) scale(0.09185,0.14759)">50</text>
<line x1="83.40" y1="697.40" x2="166.20" y2="697.40" stroke-width="0.9"/>
<line x1="166.20" y1="697.40" x2="561.30" y2="697.40"/>
<line x1="83.40" y1="920.40" x2="166.20" y2="920.40" stroke-width="0.9"/>
<line x1="166.20" y1="920.40" x2="561.30" y2="920.40"/>
<line x1="87.00" y1="697.40" x2="87.00" y2="920.40" stroke-width="0.9"/>
<path d="M87.00,697.40 L85.60,704.40 L88.40,704.40 Z" fill="#1a1a1a" stroke="none"/>
<path d="M87.00,920.40 L85.60,913.40 L88.40,913.40 Z" fill="#1a1a1a" stroke="none"/>
<text x="0" y="0" font-size="100" font-family="'Liberation Sans', sans-serif" letter-spacing="12" fill="#111" stroke="#111" stroke-width="1.5" stroke-linejoin="round" transform="translate(84.925,816.575) rotate(-90) scale(0.08831,0.15724)">65</text>
<line x1="104.30" y1="722.70" x2="340.00" y2="722.70" stroke-width="1.05"/>
<line x1="104.30" y1="894.70" x2="340.00" y2="894.70" stroke-width="1.05"/>
<line x1="107.80" y1="722.70" x2="107.80" y2="894.70" stroke-width="0.9"/>
<path d="M107.80,722.70 L106.40,729.70 L109.20,729.70 Z" fill="#1a1a1a" stroke="none"/>
<path d="M107.80,894.70 L106.40,887.70 L109.20,887.70 Z" fill="#1a1a1a" stroke="none"/>
<text x="0" y="0" font-size="100" font-family="'Liberation Sans', sans-serif" letter-spacing="12" fill="#111" stroke="#111" stroke-width="1.5" stroke-linejoin="round" transform="translate(104.930,818.143) rotate(-90) scale(0.10558,0.15448)">50</text>
<line x1="135.60" y1="750.40" x2="192.00" y2="750.40" stroke-width="0.9"/>
<line x1="135.60" y1="867.10" x2="192.00" y2="867.10" stroke-width="0.9"/>
<line x1="138.80" y1="750.40" x2="138.80" y2="867.10" stroke-width="0.9"/>
<path d="M138.80,750.40 L137.40,757.40 L140.20,757.40 Z" fill="#1a1a1a" stroke="none"/>
<path d="M138.80,867.10 L137.40,860.10 L140.20,860.10 Z" fill="#1a1a1a" stroke="none"/>
<text x="0" y="0" font-size="100" font-family="'Liberation Sans', sans-serif" letter-spacing="12" fill="#111" stroke="#111" stroke-width="1.5" stroke-linejoin="round" transform="translate(134.686,819.387) rotate(-90) scale(0.11915,0.17931)">34</text>
<line x1="166.20" y1="697.40" x2="166.20" y2="920.40"/>
<line x1="207.10" y1="697.40" x2="207.10" y2="920.40"/>
<line x1="292.80" y1="697.40" x2="292.80" y2="920.40"/>
<line x1="207.10" y1="738.70" x2="292.80" y2="738.70"/>
<line x1="207.10" y1="762.80" x2="292.80" y2="762.80"/>
<line x1="207.10" y1="855.30" x2="292.80" y2="855.30"/>
<line x1="207.10" y1="879.40" x2="292.80" y2="879.40"/>
<path d="M292.80,795.30 L244.90,795.30 L244.90,822.80 L292.80,822.80"/>
<circle cx="276.60" cy="722.70" r="16.20" stroke-width="1.15"/>
<circle cx="277.50" cy="722.70" r="12.20" stroke-width="1.15"/>
<line x1="277.50" y1="714.20" x2="277.50" y2="731.20" stroke-width="0.95"/>
<line x1="277.50" y1="703.50" x2="277.50" y2="701.90" stroke-width="0.95"/>
<line x1="277.50" y1="699.50" x2="277.50" y2="697.90" stroke-width="0.95"/>
<line x1="277.50" y1="741.90" x2="277.50" y2="743.50" stroke-width="0.95"/>
<line x1="277.50" y1="745.90" x2="277.50" y2="747.50" stroke-width="0.95"/>
<circle cx="276.60" cy="894.70" r="16.20" stroke-width="1.15"/>
<circle cx="277.50" cy="894.70" r="12.20" stroke-width="1.15"/>
<line x1="277.50" y1="886.20" x2="277.50" y2="903.20" stroke-width="0.95"/>
<line x1="277.50" y1="875.50" x2="277.50" y2="873.90" stroke-width="0.95"/>
<line x1="277.50" y1="871.50" x2="277.50" y2="869.90" stroke-width="0.95"/>
<line x1="277.50" y1="913.90" x2="277.50" y2="915.50" stroke-width="0.95"/>
<line x1="277.50" y1="917.90" x2="277.50" y2="919.50" stroke-width="0.95"/>
<circle cx="183.40" cy="750.40" r="7.40" stroke-width="1.15"/>
<line x1="176.00" y1="750.40" x2="191.00" y2="750.40" stroke-width="0.95"/>
<line x1="183.40" y1="743.00" x2="183.40" y2="757.80" stroke-width="0.95"/>
<line x1="183.40" y1="759.60" x2="183.40" y2="761.20" stroke-width="0.95"/>
<line x1="183.40" y1="763.10" x2="183.40" y2="764.70" stroke-width="0.95"/>
<line x1="183.40" y1="741.20" x2="183.40" y2="739.60" stroke-width="0.95"/>
<line x1="183.40" y1="737.70" x2="183.40" y2="736.10" stroke-width="0.95"/>
<line x1="192.60" y1="750.40" x2="194.20" y2="750.40" stroke-width="0.95"/>
<line x1="196.10" y1="750.40" x2="197.70" y2="750.40" stroke-width="0.95"/>
<line x1="174.20" y1="750.40" x2="172.60" y2="750.40" stroke-width="0.95"/>
<line x1="170.70" y1="750.40" x2="169.10" y2="750.40" stroke-width="0.95"/>
<circle cx="183.40" cy="867.10" r="7.40" stroke-width="1.15"/>
<line x1="176.00" y1="867.10" x2="191.00" y2="867.10" stroke-width="0.95"/>
<line x1="183.40" y1="859.70" x2="183.40" y2="874.50" stroke-width="0.95"/>
<line x1="183.40" y1="876.30" x2="183.40" y2="877.90" stroke-width="0.95"/>
<line x1="183.40" y1="879.80" x2="183.40" y2="881.40" stroke-width="0.95"/>
<line x1="183.40" y1="857.90" x2="183.40" y2="856.30" stroke-width="0.95"/>
<line x1="183.40" y1="854.40" x2="183.40" y2="852.80" stroke-width="0.95"/>
<line x1="192.60" y1="867.10" x2="194.20" y2="867.10" stroke-width="0.95"/>
<line x1="196.10" y1="867.10" x2="197.70" y2="867.10" stroke-width="0.95"/>
<line x1="174.20" y1="867.10" x2="172.60" y2="867.10" stroke-width="0.95"/>
<line x1="170.70" y1="867.10" x2="169.10" y2="867.10" stroke-width="0.95"/>
<circle cx="318.70" cy="722.70" r="10.30" stroke-width="1.15"/>
<circle cx="318.70" cy="722.70" r="8.60" stroke-width="0.8"/>
<line x1="307.70" y1="722.70" x2="339.90" y2="722.70" stroke-width="1.0"/>
<line x1="318.70" y1="710.70" x2="318.70" y2="750.40" stroke-width="1.0"/>
<circle cx="490.50" cy="722.90" r="10.30" stroke-width="1.15"/>
<circle cx="490.50" cy="722.90" r="8.60" stroke-width="0.8"/>
<line x1="463.20" y1="722.90" x2="511.70" y2="722.90" stroke-width="1.0"/>
<line x1="490.50" y1="710.90" x2="490.50" y2="750.60" stroke-width="1.0"/>
<circle cx="318.80" cy="894.90" r="10.30" stroke-width="1.15"/>
<circle cx="318.80" cy="894.90" r="8.60" stroke-width="0.8"/>
<line x1="307.80" y1="894.90" x2="340.00" y2="894.90" stroke-width="1.0"/>
<line x1="318.80" y1="874.90" x2="318.80" y2="922.10" stroke-width="1.0"/>
<circle cx="490.70" cy="894.90" r="10.30" stroke-width="1.15"/>
<circle cx="490.70" cy="894.90" r="8.60" stroke-width="0.8"/>
<line x1="463.40" y1="894.90" x2="511.90" y2="894.90" stroke-width="1.0"/>
<line x1="490.70" y1="874.90" x2="490.70" y2="922.10" stroke-width="1.0"/>
<circle cx="430.60" cy="809.30" r="33.00" stroke-width="1.15"/>
<line x1="421.70" y1="809.30" x2="439.10" y2="809.30" stroke-width="0.95"/>
<line x1="447.40" y1="809.30" x2="455.70" y2="809.30" stroke-width="0.95"/>
<line x1="405.10" y1="809.30" x2="413.40" y2="809.30" stroke-width="0.95"/>
<line x1="458.20" y1="809.30" x2="459.90" y2="809.30" stroke-width="0.95"/>
<line x1="400.90" y1="809.30" x2="402.60" y2="809.30" stroke-width="0.95"/>
<line x1="462.40" y1="809.30" x2="470.70" y2="809.30" stroke-width="0.95"/>
<line x1="390.10" y1="809.30" x2="398.40" y2="809.30" stroke-width="0.95"/>
<line x1="430.40" y1="800.60" x2="430.40" y2="818.00" stroke-width="0.95"/>
<line x1="430.40" y1="826.30" x2="430.40" y2="834.60" stroke-width="0.95"/>
<line x1="430.40" y1="784.00" x2="430.40" y2="792.30" stroke-width="0.95"/>
<line x1="430.40" y1="837.10" x2="430.40" y2="838.80" stroke-width="0.95"/>
<line x1="430.40" y1="779.80" x2="430.40" y2="781.50" stroke-width="0.95"/>
<line x1="430.40" y1="841.30" x2="430.40" y2="849.60" stroke-width="0.95"/>
<line x1="430.40" y1="769.00" x2="430.40" y2="777.30" stroke-width="0.95"/>
<line x1="363.20" y1="809.30" x2="381.60" y2="809.30" stroke-width="1.1" stroke="#3444e6"/>
<line x1="516.70" y1="697.40" x2="516.70" y2="920.40"/>
<line x1="520.10" y1="697.40" x2="520.10" y2="920.40"/>
<line x1="561.30" y1="697.40" x2="561.30" y2="920.40"/>
<line x1="516.70" y1="738.70" x2="520.10" y2="738.70" stroke-width="0.8"/>
<line x1="516.70" y1="762.80" x2="520.10" y2="762.80" stroke-width="0.8"/>
<line x1="516.70" y1="795.30" x2="520.10" y2="795.30" stroke-width="0.8"/>
<line x1="516.70" y1="822.80" x2="520.10" y2="822.80" stroke-width="0.8"/>
<line x1="516.70" y1="855.30" x2="520.10" y2="855.30" stroke-width="0.8"/>
<line x1="516.70" y1="879.40" x2="520.10" y2="879.40" stroke-width="0.8"/>
<circle cx="543.70" cy="750.30" r="7.40" stroke-width="1.15"/>
<line x1="536.30" y1="750.30" x2="551.10" y2="750.30" stroke-width="0.95"/>
<line x1="543.70" y1="742.90" x2="543.70" y2="757.70" stroke-width="0.95"/>
<line x1="534.50" y1="750.30" x2="532.90" y2="750.30" stroke-width="0.95"/>
<line x1="531.00" y1="750.30" x2="529.40" y2="750.30" stroke-width="0.95"/>
<line x1="552.90" y1="750.30" x2="554.50" y2="750.30" stroke-width="0.95"/>
<line x1="556.40" y1="750.30" x2="558.00" y2="750.30" stroke-width="0.95"/>
<line x1="543.70" y1="759.50" x2="543.70" y2="761.10" stroke-width="0.95"/>
<line x1="543.70" y1="763.00" x2="543.70" y2="764.60" stroke-width="0.95"/>
<line x1="543.70" y1="741.10" x2="543.70" y2="739.50" stroke-width="0.95"/>
<line x1="543.70" y1="737.60" x2="543.70" y2="736.00" stroke-width="0.95"/>
<circle cx="543.70" cy="867.40" r="7.40" stroke-width="1.15"/>
<line x1="536.30" y1="867.40" x2="551.10" y2="867.40" stroke-width="0.95"/>
<line x1="543.70" y1="860.00" x2="543.70" y2="874.80" stroke-width="0.95"/>
<line x1="534.50" y1="867.40" x2="532.90" y2="867.40" stroke-width="0.95"/>
<line x1="531.00" y1="867.40" x2="529.40" y2="867.40" stroke-width="0.95"/>
<line x1="552.90" y1="867.40" x2="554.50" y2="867.40" stroke-width="0.95"/>
<line x1="556.40" y1="867.40" x2="558.00" y2="867.40" stroke-width="0.95"/>
<line x1="543.70" y1="876.60" x2="543.70" y2="878.20" stroke-width="0.95"/>
<line x1="543.70" y1="880.10" x2="543.70" y2="881.70" stroke-width="0.95"/>
<line x1="543.70" y1="858.20" x2="543.70" y2="856.60" stroke-width="0.95"/>
<line x1="543.70" y1="854.70" x2="543.70" y2="853.10" stroke-width="0.95"/>
<circle cx="553.90" cy="808.70" r="4.60" stroke-width="1.15"/>
<line x1="540.00" y1="808.70" x2="576.00" y2="808.70" stroke-width="0.95"/>
<line x1="553.90" y1="796.00" x2="553.90" y2="821.50" stroke-width="0.95"/>
<line x1="561.30" y1="774.30" x2="601.50" y2="774.30"/>
<line x1="561.30" y1="843.00" x2="601.50" y2="843.00"/>
<line x1="604.50" y1="745.50" x2="604.50" y2="873.00" stroke-width="0.7" stroke="#555"/>
<line x1="640.60" y1="745.50" x2="640.60" y2="873.00" stroke-width="0.7" stroke="#555"/>
<rect x="603.50" y="745.48" width="38.10" height="0.70" rx="0.35" fill="#2a2a2a" stroke="#141414" stroke-width="0.8"/>
<rect x="603.50" y="747.19" width="38.10" height="0.70" rx="0.35" fill="#2a2a2a" stroke="#141414" stroke-width="0.8"/>
<rect x="603.50" y="749.37" width="38.10" height="0.80" rx="0.40" fill="#2a2a2a" stroke="#141414" stroke-width="0.8"/>
<rect x="603.50" y="751.59" width="38.10" height="0.80" rx="0.40" fill="#2a2a2a" stroke="#141414" stroke-width="0.8"/>
<rect x="603.50" y="754.47" width="38.10" height="1.09" rx="0.54" fill="#2a2a2a" stroke="#141414" stroke-width="0.8"/>
<rect x="603.50" y="758.59" width="38.10" height="1.57" rx="0.78" fill="#2a2a2a" stroke="#141414" stroke-width="0.8"/>
<rect x="603.50" y="764.13" width="38.10" height="2.00" rx="1.00" fill="#2a2a2a" stroke="#141414" stroke-width="0.8"/>
<rect x="603.50" y="769.84" width="38.10" height="1.89" rx="0.95" fill="#2a2a2a" stroke="#141414" stroke-width="0.8"/>
<rect x="603.50" y="775.10" width="38.10" height="1.89" rx="0.95" fill="#2a2a2a" stroke="#141414" stroke-width="0.8"/>
<rect x="603.50" y="781.21" width="38.10" height="2.00" rx="1.00" fill="#808080" stroke="#141414" stroke-width="0.8"/>
<rect x="603.50" y="787.78" width="38.10" height="2.00" rx="1.00" fill="#808080" stroke="#141414" stroke-width="0.8"/>
<rect x="603.50" y="794.35" width="38.10" height="2.00" rx="1.00" fill="#bdbdbd" stroke="#141414" stroke-width="0.8"/>
<rect x="603.50" y="800.93" width="38.10" height="2.00" rx="1.00" fill="#bdbdbd" stroke="#141414" stroke-width="0.8"/>
<rect x="603.50" y="807.79" width="38.10" height="2.00" rx="1.00" fill="#bdbdbd" stroke="#141414" stroke-width="0.8"/>
<rect x="603.50" y="814.47" width="38.10" height="2.00" rx="1.00" fill="#bdbdbd" stroke="#141414" stroke-width="0.8"/>
<rect x="603.50" y="821.44" width="38.10" height="2.00" rx="1.00" fill="#bdbdbd" stroke="#141414" stroke-width="0.8"/>
<rect x="603.50" y="828.32" width="38.10" height="2.00" rx="1.00" fill="#808080" stroke="#141414" stroke-width="0.8"/>
<rect x="603.50" y="834.58" width="38.10" height="2.00" rx="1.00" fill="#808080" stroke="#141414" stroke-width="0.8"/>
<rect x="603.50" y="840.74" width="38.10" height="2.00" rx="1.00" fill="#2a2a2a" stroke="#141414" stroke-width="0.8"/>
<rect x="603.50" y="846.47" width="38.10" height="1.89" rx="0.94" fill="#2a2a2a" stroke="#141414" stroke-width="0.8"/>
<rect x="603.50" y="851.71" width="38.10" height="1.89" rx="0.94" fill="#2a2a2a" stroke="#141414" stroke-width="0.8"/>
<rect x="603.50" y="857.14" width="38.10" height="1.56" rx="0.78" fill="#2a2a2a" stroke="#141414" stroke-width="0.8"/>
<rect x="603.50" y="861.55" width="38.10" height="1.42" rx="0.71" fill="#2a2a2a" stroke="#141414" stroke-width="0.8"/>
<rect x="603.50" y="865.64" width="38.10" height="1.13" rx="0.57" fill="#2a2a2a" stroke="#141414" stroke-width="0.8"/>
<rect x="603.50" y="868.87" width="38.10" height="0.94" rx="0.47" fill="#2a2a2a" stroke="#141414" stroke-width="0.8"/>
<rect x="603.50" y="871.58" width="38.10" height="0.77" rx="0.38" fill="#2a2a2a" stroke="#141414" stroke-width="0.8"/>
<rect x="603.50" y="873.74" width="38.10" height="0.70" rx="0.35" fill="#2a2a2a" stroke="#141414" stroke-width="0.8"/>
<path d="M601.50,746.70 L604.70,743.50 L640.40,743.50 L643.60,746.70 L643.60,871.80 L640.40,875.00 L604.70,875.00 L601.50,871.80 Z" stroke-width="1.2"/>
<line x1="604.70" y1="744.10" x2="640.40" y2="744.10" stroke-width="1.3"/>
<line x1="604.70" y1="874.40" x2="640.40" y2="874.40" stroke-width="1.3"/>
<line x1="484.40" y1="726.80" x2="565.00" y2="654.90" stroke-width="0.9"/>
<line x1="565.00" y1="654.80" x2="622.80" y2="654.80" stroke-width="1.8"/>
<path d="M498.20,716.00 L502.56,710.37 L504.29,712.31 Z" fill="#1a1a1a" stroke="none"/>
<text x="0" y="0" font-size="100" font-family="'Liberation Sans', sans-serif" fill="#111" stroke="#111" stroke-width="2.5" stroke-linejoin="round" transform="translate(565.626,650.755) scale(0.09907,0.18156)">4</text>
<rect x="572.2" y="644.2" width="6" height="1.5" fill="#111" stroke="none"/>
<text x="0" y="0" font-size="100" font-family="'Liberation Sans', sans-serif" fill="#111" stroke="#111" stroke-width="2.5" stroke-linejoin="round" transform="translate(579.204,650.576) scale(0.11799,0.17902)">M</text>
<text x="0" y="0" font-size="100" font-family="'Liberation Sans', sans-serif" fill="#111" stroke="#111" stroke-width="2.5" stroke-linejoin="round" transform="translate(589.244,650.408) scale(0.09485,0.17415)">6</text>
<path d="M595.50,639.20 H606.20 M600.85,639.20 V651.40 M596.50,644.22 L600.85,652.40 L605.20,644.22" stroke="#111" stroke-width="1.5" fill="none"/>
<line x1="612.00" y1="638.20" x2="612.00" y2="650.60" stroke-width="1.4" stroke="#111"/>
<text x="0" y="0" font-size="100" font-family="'Liberation Sans', sans-serif" fill="#111" stroke="#111" stroke-width="2.5" stroke-linejoin="round" transform="translate(614.589,650.403) scale(0.14949,0.17655)">5</text>
<line x1="556.90" y1="802.00" x2="615.00" y2="694.50" stroke-width="0.9"/>
<line x1="615.00" y1="694.50" x2="681.60" y2="694.50" stroke-width="1.4"/>
<path d="M556.10,804.70 L557.98,798.90 L559.92,799.94 Z" fill="#1a1a1a" stroke="none"/>
<text x="0" y="0" font-size="100" font-family="'Liberation Sans', sans-serif" fill="#111" stroke="#111" stroke-width="1" stroke-linejoin="round" transform="translate(616.939,693.585) scale(0.07480,0.14306)">M3</text>
<path d="M628.99,683.20 L628.00,686.38 M628.00,685.85 L630.31,685.85 M628.33,688.50 L630.31,688.50 M629.32,685.85 L629.32,693.80 M628.33,692.21 L630.51,690.41 M630.97,683.73 L631.63,685.53 M632.75,683.20 L632.75,686.38 M634.47,683.73 L633.81,685.53 M631.30,686.59 L634.27,686.59 L634.27,691.47 L631.30,691.47 L631.30,686.59 M631.30,689.03 L634.27,689.03 M632.49,691.47 L631.17,693.80 M633.15,691.68 L634.60,693.80" stroke="#111" stroke-width="0.9" fill="none" stroke-linecap="square"/>
<path d="M636.54,683.20 L636.54,686.91 M637.73,683.20 L637.73,686.91 M639.05,683.73 L642.02,683.73 M639.38,684.05 L642.02,687.44 M642.02,684.05 L639.05,687.44 M638.52,687.97 L637.07,689.77 L640.50,689.56 M639.71,688.50 L637.73,691.15 L641.03,690.83 M639.05,690.83 L639.05,693.80 M637.73,692.21 L636.41,693.80 M640.37,692.21 L641.69,693.80" stroke="#111" stroke-width="0.9" fill="none" stroke-linecap="square"/>
<path d="M644.29,683.41 L644.29,687.23 M643.50,685.32 L645.48,685.32 M646.27,684.79 L650.10,684.79 M648.12,683.20 L648.12,687.44 M646.67,687.44 L649.77,687.44 M643.50,689.03 L650.10,689.03 M646.80,687.97 L646.80,689.03 M646.47,689.56 L644.03,693.27 M645.48,691.15 L645.48,693.80 M646.80,690.09 L650.10,693.80 M649.31,690.09 L647.59,691.68" stroke="#111" stroke-width="0.9" fill="none" stroke-linecap="square"/>
<path d="M651.91,683.20 L657.19,683.20 L657.19,685.85 L651.91,685.85 L651.91,683.20 M653.69,683.20 L653.69,685.85 M655.41,683.20 L655.41,685.85 M651.25,687.02 L657.85,687.02 M654.55,686.38 L654.55,688.08 M652.70,688.08 L656.66,688.08 L656.66,692.74 L652.70,692.74 L652.70,688.08 M652.70,689.56 L656.66,689.56 M652.70,691.15 L656.66,691.15 M651.25,693.80 L657.85,693.80 M651.91,688.08 L651.91,693.80" stroke="#111" stroke-width="0.9" fill="none" stroke-linecap="square"/>
<path d="M659.00,685.32 L661.38,685.32 L661.38,689.03 L659.00,689.03 L659.00,685.32 M660.19,683.20 L660.19,692.53 M659.00,692.95 L661.51,691.68 M662.04,683.20 L665.34,683.20 L665.34,687.44 L662.04,687.44 L662.04,683.20 M662.04,685.32 L665.34,685.32 M663.69,683.20 L663.69,687.44 M663.36,687.97 L662.30,689.56 L665.07,689.35 M663.69,689.56 L663.69,693.80 M662.43,691.89 L661.97,693.38 M664.94,691.89 L665.40,693.38" stroke="#111" stroke-width="0.9" fill="none" stroke-linecap="square"/>
<path d="M668.40,683.20 L667.08,686.38 L668.73,686.38 L667.08,689.77 L669.13,689.14 M666.75,692.53 L669.13,691.26 M671.37,683.20 L671.37,684.68 M669.65,685.32 L673.35,685.32 M670.38,686.38 L673.22,693.80 M672.69,686.38 L669.72,693.80" stroke="#111" stroke-width="0.9" fill="none" stroke-linecap="square"/>
<path d="M674.83,683.84 L677.67,683.84 L676.28,686.38 M676.28,686.38 L676.28,693.80 L675.49,693.16 M674.50,688.71 L677.93,688.08 M679.12,683.20 L679.12,692.74 L681.10,692.74 L681.10,690.83" stroke="#111" stroke-width="0.9" fill="none" stroke-linecap="square"/>
</g>
</svg>
</body></html>
